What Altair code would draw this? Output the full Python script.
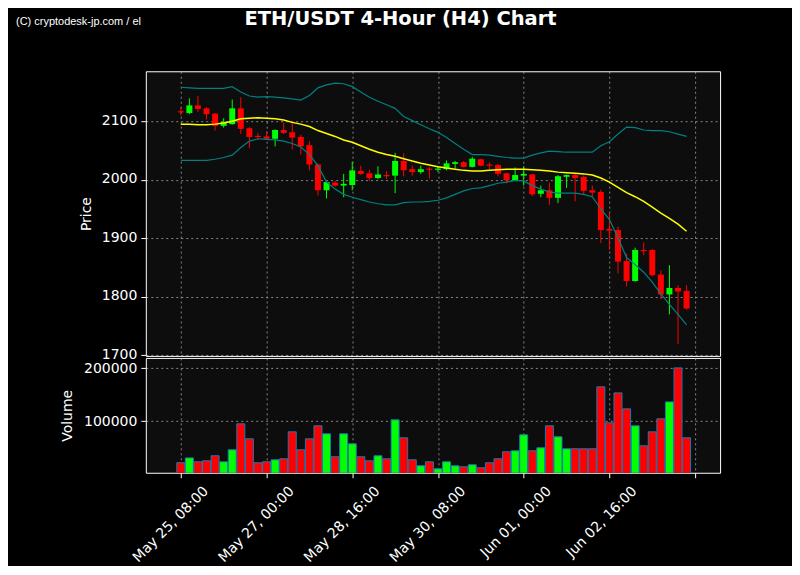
import altair as alt
import pandas as pd

chart_title = "ETH/USDT 4-Hour (H4) Chart"
watermark = "(C) cryptodesk-jp.com / el"

opens = [2117, 2114, 2127, 2122, 2113, 2092, 2095, 2122, 2088, 2075,
         2074, 2070, 2085, 2081, 2073, 2059, 2026, 1982, 1995, 1990,
         1991, 2015, 2011, 2003, 2008, 2007, 2032, 2018, 2013, 2019,
         2017, 2018, 2027, 2030, 2022, 2035, 2026, 2025, 2011, 1999,
         2007, 2009, 1976, 1982, 1969, 2005, 2008, 2005, 1982, 1979,
         1916, 1914, 1861, 1827, 1880, 1880, 1838, 1804, 1815, 1810]
highs = [2124, 2139, 2143, 2124, 2114, 2105, 2137, 2141, 2090, 2080,
         2083, 2086, 2097, 2099, 2077, 2066, 2028, 1998, 1998, 2010,
         2031, 2024, 2017, 2023, 2015, 2046, 2045, 2024, 2024, 2022,
         2022, 2033, 2032, 2032, 2039, 2036, 2030, 2027, 2012, 2021,
         2023, 2010, 1990, 1995, 2008, 2009, 2010, 2007, 1990, 1983,
         1943, 1920, 1874, 1884, 1893, 1882, 1845, 1854, 1820, 1820]
lows = [2110, 2112, 2116, 2103, 2084, 2089, 2094, 2078, 2054, 2068,
        2068, 2057, 2078, 2052, 2043, 2016, 1973, 1968, 1988, 1970,
        1982, 2008, 1998, 2001, 2001, 1977, 2006, 2007, 2010, 2002,
        2013, 2016, 2019, 2021, 2021, 2023, 2018, 2006, 1994, 1998,
        1990, 1972, 1970, 1957, 1960, 1986, 1963, 1975, 1970, 1892,
        1880, 1840, 1818, 1826, 1871, 1835, 1796, 1770, 1719, 1778]
closes = [2115, 2127, 2121, 2112, 2092, 2099, 2122, 2087, 2073, 2073,
          2070, 2085, 2080, 2072, 2057, 2026, 1982, 1996, 1990, 1993,
          2016, 2010, 2003, 2009, 2006, 2032, 2016, 2013, 2018, 2017,
          2019, 2028, 2030, 2022, 2036, 2024, 2024, 2010, 1999, 2008,
          2010, 1975, 1982, 1969, 2006, 2008, 2003, 1981, 1978, 1914,
          1913, 1860, 1827, 1880, 1878, 1837, 1804, 1815, 1809, 1780]
bb_mid = [2095, 2095, 2094, 2094, 2095, 2097, 2100, 2104, 2105, 2106,
          2105, 2104, 2102, 2098, 2095, 2091, 2084, 2079, 2074, 2068,
          2064, 2058, 2052, 2047, 2043, 2040, 2036, 2032, 2028, 2025,
          2022, 2020, 2018, 2016, 2015, 2015, 2016, 2017, 2018, 2018,
          2018, 2017, 2016, 2015, 2013, 2012, 2011, 2010, 2008, 2003,
          1996, 1987, 1978, 1971, 1963, 1953, 1943, 1934, 1924, 1912]
bb_upper = [2158, 2157, 2156, 2156, 2156, 2156, 2159, 2150, 2143, 2141,
            2142, 2141, 2140, 2138, 2136, 2144, 2157, 2162, 2165, 2164,
            2159, 2150, 2141, 2134, 2128, 2122, 2108, 2101, 2094, 2087,
            2081, 2072, 2062, 2052, 2043, 2043, 2042, 2040, 2038, 2037,
            2037, 2042, 2046, 2049, 2048, 2047, 2047, 2047, 2047, 2058,
            2065, 2078, 2090, 2089, 2085, 2084, 2084, 2082, 2078, 2074]
bb_lower = [2033, 2033, 2033, 2033, 2035, 2038, 2042, 2055, 2066, 2070,
            2069, 2068, 2066, 2062, 2056, 2043, 2024, 1996, 1984, 1975,
            1970, 1966, 1962, 1959, 1957, 1957, 1961, 1962, 1962, 1963,
            1965, 1969, 1975, 1981, 1985, 1986, 1990, 1994, 1996, 1999,
            1998, 1990, 1984, 1979, 1977, 1977, 1977, 1975, 1971, 1950,
            1932, 1901, 1867, 1855, 1842, 1825, 1805, 1787, 1770, 1752]
volumes = [21000, 30000, 22600, 24500, 34000, 22600, 45300, 94300, 66000, 20800,
           22600, 26400, 28300, 79200, 45300, 66000, 90600, 75500, 32100, 75500,
           56600, 32100, 24500, 34000, 28300, 101900, 67900, 26400, 15100, 22600,
           9400, 22600, 15100, 13200, 17000, 11300, 20800, 28300, 41500, 43400,
           73600, 43400, 49100, 90600, 69800, 47200, 47200, 47200, 47200, 164200,
           96200, 152800, 122600, 90600, 52800, 79200, 103800, 135800, 200000, 67900]
tick_idx = [0, 10, 20, 30, 40, 50, 60]
tick_labels = ["May 25, 08:00", "May 27, 00:00", "May 28, 16:00", "May 30, 08:00",
               "Jun 01, 00:00", "Jun 02, 16:00", ""]
price_ticks = [1700, 1800, 1900, 2000, 2100]
volume_ticks = [100000, 200000]

n = len(opens)
df = pd.DataFrame({
    "i": list(range(n)), "open": opens, "high": highs, "low": lows, "close": closes,
    "mid": bb_mid, "upper": bb_upper, "lower": bb_lower, "volume": volumes,
})
df["dir"] = ["up" if c >= o else "down" for o, c in zip(opens, closes)]

color_scale = alt.Scale(domain=["up", "down"], range=["#00ff00", "#ff0000"])
xscale = alt.Scale(domain=[-4.08, 62.91], nice=False, zero=False, padding=0)
label_expr = "[" + ",".join("'" + s + "'" for s in tick_labels) + "][round(datum.value / 10)]"

grid_kw = dict(grid=True, gridColor="#b0b0b0", gridOpacity=0.75, gridDash=[2, 3], gridWidth=1)

x_top = alt.X("i:Q", scale=xscale,
              axis=alt.Axis(values=tick_idx, labels=False, ticks=False, domain=False,
                            title=None, minExtent=0, maxExtent=0, labelPadding=0, **grid_kw))
y_price_scale = alt.Scale(domain=[1699, 2185.3], nice=False, zero=False)
y_price_axis = alt.Axis(values=price_ticks, title="Price", titleX=-52, format="d",
                        labelOffset=-1, **grid_kw)

base = alt.Chart(df)
wicks = base.mark_rule(strokeWidth=1).encode(
    x=x_top,
    y=alt.Y("low:Q", scale=y_price_scale, axis=y_price_axis),
    y2="high:Q",
    color=alt.Color("dir:N", scale=color_scale, legend=None),
)
bodies = base.mark_bar(size=6).encode(
    x=x_top,
    y=alt.Y("open:Q", scale=y_price_scale),
    y2="close:Q",
    color=alt.Color("dir:N", scale=color_scale, legend=None),
)
upper_line = base.mark_line(color="#008080", strokeWidth=1.2).encode(x=x_top, y=alt.Y("upper:Q", scale=y_price_scale))
lower_line = base.mark_line(color="#008080", strokeWidth=1.2).encode(x=x_top, y=alt.Y("lower:Q", scale=y_price_scale))
mid_line = base.mark_line(color="#ffff00", strokeWidth=1.5).encode(x=x_top, y=alt.Y("mid:Q", scale=y_price_scale))

title_txt = alt.Chart(pd.DataFrame({"t": [chart_title]})).mark_text(
    font="DejaVu Sans", fontSize=19.5, fontWeight="bold", color="white",
    align="center", baseline="alphabetic"
).encode(text="t:N", x=alt.value(255), y=alt.value(-46.5))
wm_txt = alt.Chart(pd.DataFrame({"t": [watermark]})).mark_text(
    font="Liberation Sans", fontSize=11, color="white",
    align="left", baseline="middle"
).encode(text="t:N", x=alt.value(-130), y=alt.value(-49))

price = alt.layer(wicks, bodies, upper_line, lower_line, mid_line, title_txt, wm_txt).properties(
    width=575, height=285)

x_bot = alt.X("i:Q", scale=xscale,
              axis=alt.Axis(values=tick_idx, labelExpr=label_expr, labelAngle=-45,
                            labelAlign="right", labelBaseline="top", title=None,
                            tickSize=5, labelPadding=6, labelOffset=20, **grid_kw))
vol = base.mark_bar(size=8, stroke="#1f77b4", strokeWidth=1, clip=True).encode(
    x=x_bot,
    y=alt.Y("volume:Q", scale=alt.Scale(domain=[1887, 218868], nice=False, zero=False),
            axis=alt.Axis(values=volume_ticks, title="Volume", titleX=-71, format="d",
                          labelOffset=1, **grid_kw)),
    color=alt.Color("dir:N", scale=color_scale, legend=None),
).properties(width=575, height=115)

chart = alt.vconcat(price, vol, spacing=2, bounds="flush").properties(
    background="black",
    padding={"left": 7, "top": 0, "right": 66, "bottom": 0},
).configure_view(
    fill="#0d0d0d", stroke="white", strokeWidth=1
).configure_axis(
    domain=False, labelColor="white", tickColor="white", titleColor="white",
    labelFontSize=14, titleFontSize=14, titleFontWeight="normal",
    labelFont="DejaVu Sans", titleFont="DejaVu Sans", tickSize=5, labelPadding=4,
)

chart.save("out.html", embed_options={"renderer": "svg", "actions": False})
